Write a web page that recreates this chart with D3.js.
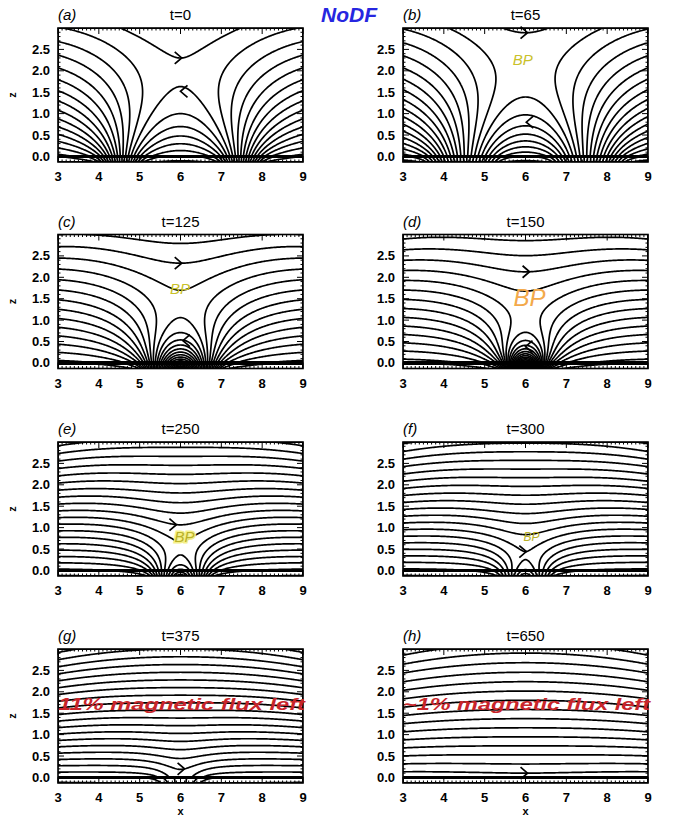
<!DOCTYPE html>
<html>
<head>
<meta charset="utf-8">
<script src="https://cdn.jsdelivr.net/npm/d3@7"></script>
<style>
  body { margin: 0; background: #fff; }
  text { font-family: "Liberation Sans", Arial, sans-serif; }
</style>
</head>
<body>
<svg id="chart" width="675" height="817"></svg>
<script>
// panels
var letters = ['a', 'b', 'c', 'd', 'e', 'f', 'g', 'h'];
var times = [0, 65, 125, 150, 250, 300, 375, 650];
// bipole flux still present, and where each polarity patch sits (distance from x=6)
var fluxLeft  = [1.10, 1.20, 1.30, 1.50, 0.45, 0.33, 0.11, 0.01];
var innerEdge = [0.90, 0.60, 0.05, 0.05, 0.03, 0.03, 0.03, 0.03];
var outerEdge = [2.05, 2.50, 1.00, 0.55, 0.80, 0.70, 0.60, 2.50];
// spacing of the drawn field lines (flux units)
var levelStep = [0.15, 0.14, 0.13, 0.12, 0.085, 0.085, 0.08, 0.10];

var xTicks = [3, 4, 5, 6, 7, 8, 9];
var zTicks = [0, 0.5, 1, 1.5, 2, 2.5];
var zTickLabels = ['0.0', '0.5', '1.0', '1.5', '2.0', '2.5'];

// direction arrows drawn on the field lines (first one of each panel anchors the contour levels)
var arrowPanel = [0, 0, 1, 1, 2, 2, 3, 3, 4, 5, 6, 7];
var arrowX     = [6.03, 6.0, 6.05, 6.02, 6.03, 6.06, 6.1, 6.0, 5.9, 6.02, 6.1, 6.05];
var arrowZ     = [2.3, 1.52, 2.89, 0.8, 2.33, 0.52, 2.13, 0.38, 1.07, 0.44, 0.2, 0.1];
var arrowDir   = [1, -1, 1, -1, 1, -1, 1, -1, 1, 1, 1, 1];

// "BP" marks
var bpPanel = [1, 2, 3, 4, 5];
var bpX     = [5.93, 5.99, 6.1, 6.1, 6.15];
var bpZ     = [2.26, 1.73, 1.53, 0.79, 0.79];
var bpSize  = [15, 15, 24, 15, 12];
var bpColor = ['#c9c12a', '#c9c12a', '#f3a94a', '#b9b128', '#b9b128'];

var noteText  = ['11% magnetic flux left', '~1% magnetic flux left'];
var notePanel = [6, 7];
var noteZ     = [1.72, 1.72];

// model constants for the flux function
var Q0 = 1.0, DEPTH = 0.2, NSUB = 24;
var QB = 2.3, LB = 9.5, DB = 0.0;

var colLeft = [58, 403], rowTop = [28, 234.5, 442, 649];
var boxW = 245, boxH = 134;
var zMin = -0.13, zMax = 3.0;
var nx = 246, nz = 135;

var svg = d3.select('#chart');

function fluxFn(p) {
  var xr = [], xl = [], q = Q0 * fluxLeft[p] / NSUB;
  for (var k = 0; k < NSUB; k++) {
    var t = (k + 0.5) / NSUB;
    xr.push(6 + innerEdge[p] + t * (outerEdge[p] - innerEdge[p]));
    xl.push(6 - innerEdge[p] - t * (outerEdge[p] - innerEdge[p]));
  }
  return function(x, z) {
    var a = 0;
    for (var k = 0; k < NSUB; k++) {
      a += q * (Math.atan2(z + DEPTH, x - xr[k]) - Math.atan2(z + DEPTH, x - xl[k]));
    }
    a += QB * (Math.atan2(z + DB, x - (6 - LB)) - Math.atan2(z + DB, x - (6 + LB)));
    return a;
  };
}

function panelScales(p) {
  var x0 = colLeft[p % 2], y0 = rowTop[Math.floor(p / 2)];
  return {
    x0: x0, y0: y0,
    x: d3.scaleLinear().domain([3, 9]).range([x0, x0 + boxW]),
    z: d3.scaleLinear().domain([zMin, zMax]).range([y0 + boxH, y0])
  };
}

letters.forEach(function(letter, p) {
  var s = panelScales(p), x0 = s.x0, y0 = s.y0, xs = s.x, zs = s.z;
  var g = svg.append('g');

  var f = fluxFn(p);
  var values = new Float64Array(nx * nz);
  var amin = Infinity, amax = -Infinity;
  for (var j = 0; j < nz; j++) {
    var z = zMax - j * (zMax - zMin) / (nz - 1);
    for (var i = 0; i < nx; i++) {
      var x = 3 + i * 6 / (nx - 1);
      var v = f(x, z);
      values[j * nx + i] = v;
      if (v < amin) amin = v;
      if (v > amax) amax = v;
    }
  }
  var k0 = arrowPanel.indexOf(p);
  var anchor = f(arrowX[k0], arrowZ[k0]);
  var levels = [];
  var start = anchor - Math.floor((anchor - amin) / levelStep[p]) * levelStep[p];
  for (var v = start; v < amax; v += levelStep[p]) levels.push(v);
  var contours = d3.contours().size([nx, nz]).thresholds(levels)(values);

  var gx = d3.scaleLinear().domain([0.5, nx - 0.5]).range([x0, x0 + boxW]);
  var gy = d3.scaleLinear().domain([0.5, nz - 0.5]).range([y0, y0 + boxH]);
  var path = d3.geoPath(d3.geoTransform({
    point: function(cx, cy) { this.stream.point(gx(cx), gy(cy)); }
  }));

  svg.append('clipPath').attr('id', 'clip' + p)
    .append('rect').attr('x', x0).attr('y', y0).attr('width', boxW).attr('height', boxH);

  g.append('g').attr('clip-path', 'url(#clip' + p + ')')
    .selectAll('path').data(contours).enter().append('path')
    .attr('d', path).attr('fill', 'none').attr('stroke', '#000').attr('stroke-width', 1.7);

  // frame and ticks
  g.append('rect').attr('x', x0).attr('y', y0).attr('width', boxW).attr('height', boxH)
    .attr('fill', 'none').attr('stroke', '#000').attr('stroke-width', 1.6);
  var minorX = d3.range(30, 91).map(function(d) { return d / 10; });
  var minorZ = d3.range(0, 30).map(function(d) { return d / 10; });
  var ticks = g.append('g').attr('stroke', '#000').attr('stroke-width', 1);
  minorX.forEach(function(d) {
    var len = (Math.abs(d - Math.round(d)) < 1e-6) ? 6 : 2.5;
    ticks.append('line').attr('x1', xs(d)).attr('x2', xs(d)).attr('y1', y0 + boxH).attr('y2', y0 + boxH - len);
    ticks.append('line').attr('x1', xs(d)).attr('x2', xs(d)).attr('y1', y0).attr('y2', y0 + len);
  });
  minorZ.forEach(function(d) {
    var len = (Math.abs(d * 2 - Math.round(d * 2)) < 1e-6) ? 6 : 2.5;
    ticks.append('line').attr('y1', zs(d)).attr('y2', zs(d)).attr('x1', x0).attr('x2', x0 + len);
    ticks.append('line').attr('y1', zs(d)).attr('y2', zs(d)).attr('x1', x0 + boxW).attr('x2', x0 + boxW - len);
  });

  g.selectAll('.xt').data(xTicks).enter().append('text')
    .attr('x', function(d) { return xs(d); }).attr('y', y0 + boxH + 19)
    .attr('text-anchor', 'middle').attr('font-size', 13).attr('font-weight', 'bold')
    .text(function(d) { return d; });
  g.selectAll('.zt').data(zTicks).enter().append('text')
    .attr('x', x0 - 8).attr('y', function(d) { return zs(d) + 4.5; })
    .attr('text-anchor', 'end').attr('font-size', 13).attr('font-weight', 'bold')
    .text(function(d, i) { return zTickLabels[i]; });

  g.append('text').attr('x', x0).attr('y', y0 - 8)
    .attr('font-size', 15).attr('font-style', 'italic').text('(' + letter + ')');
  g.append('text').attr('x', x0 + boxW / 2).attr('y', y0 - 8).attr('text-anchor', 'middle')
    .attr('font-size', 15).text('t=' + times[p]);

  if (p % 2 === 0) {
    g.append('text').attr('transform', 'translate(' + (x0 - 42) + ',' + (y0 + boxH / 2) + ') rotate(-90)')
      .attr('text-anchor', 'middle').attr('font-size', 11).attr('font-weight', 'bold').text('z');
  }
  if (p >= 6) {
    g.append('text').attr('x', x0 + boxW / 2).attr('y', y0 + boxH + 32).attr('text-anchor', 'middle')
      .attr('font-size', 11).attr('font-weight', 'bold').text('x');
  }
});

arrowPanel.forEach(function(p, k) {
  var s = panelScales(p), px = s.x(arrowX[k]), py = s.z(arrowZ[k]), d = arrowDir[k];
  svg.append('path')
    .attr('d', 'M' + (px - d * 7) + ',' + (py - 6) + 'L' + px + ',' + py + 'L' + (px - d * 7) + ',' + (py + 6))
    .attr('fill', 'none').attr('stroke', '#000').attr('stroke-width', 1.7);
});

bpPanel.forEach(function(p, k) {
  var s = panelScales(p);
  var t = svg.append('text').attr('x', s.x(bpX[k])).attr('y', s.z(bpZ[k]) + bpSize[k] * 0.35)
    .attr('text-anchor', 'middle').attr('font-size', bpSize[k]).attr('font-style', 'italic')
    .attr('fill', bpColor[k]).text('BP');
  if (p === 4) t.attr('stroke', '#f4f08a').attr('stroke-width', 3).attr('paint-order', 'stroke');
});

notePanel.forEach(function(p, k) {
  var s = panelScales(p);
  svg.append('text').attr('x', s.x(3)).attr('y', s.z(noteZ[k]) + 6)
    .attr('textLength', boxW + 2).attr('lengthAdjust', 'spacingAndGlyphs')
    .attr('font-family', '"DejaVu Serif", serif').attr('font-size', 17)
    .attr('font-weight', 'bold').attr('font-style', 'italic').attr('fill', '#c8252a')
    .text(noteText[k]);
});

svg.append('text').attr('x', 349).attr('y', 22).attr('text-anchor', 'middle')
  .attr('font-family', '"Liberation Serif", "DejaVu Serif", serif').attr('font-size', 21)
  .attr('font-weight', 'bold').attr('font-style', 'italic').attr('fill', '#2626e0').text('NoDF');
</script>
</body>
</html>
